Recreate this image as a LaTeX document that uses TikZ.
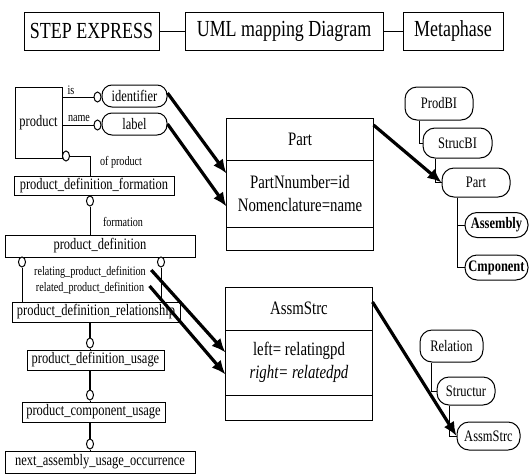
\documentclass[tikz,border=0pt]{standalone}
\usepackage{fontspec}
\setmainfont{Liberation Serif}[FakeStretch=0.78]
\usepackage{tikz}
\usetikzlibrary{arrows.meta,positioning,calc,shapes.geometric}
\tikzstyle{titleBox}=[draw, minimum height=38pt, inner sep=0pt, font=\fontsize{23pt}{26pt}\selectfont]
\tikzstyle{entityBox}=[draw, minimum height=20pt, inner sep=0pt, font=\fontsize{16pt}{17pt}\selectfont]
\tikzstyle{attrPill}=[draw, rounded corners=10pt, minimum height=22pt, inner sep=0pt, font=\fontsize{16pt}{17pt}\selectfont]
\tikzstyle{ringMark}=[draw, fill=white, ellipse, minimum width=7pt, minimum height=10pt, inner sep=0pt]
\tikzstyle{roleLabel}=[inner sep=0pt, font=\fontsize{13pt}{15pt}\selectfont]
\tikzstyle{classBox}=[draw, minimum width=147pt, inner sep=0pt, outer sep=0pt, align=center, font=\fontsize{19pt}{23pt}\selectfont]
\tikzstyle{treePill}=[draw, rounded corners=12pt, inner sep=0pt, font=\fontsize{16pt}{18pt}\selectfont]
\tikzstyle{boldPill}=[treePill, font=\fontsize{16pt}{18pt}\selectfont\bfseries]
\tikzstyle{mapArrow}=[line width=3.2pt, -{Latex[length=14pt,width=12pt]}]
\tikzstyle{heavyLink}=[line width=2.8pt]

\begin{document}
\begin{tikzpicture}[x=1pt,y=-1pt,line width=1pt]
  \useasboundingbox (0,0) rectangle (532,474);
  \node [titleBox, minimum width=135pt] (stepExpress) at (91.5,31) {STEP EXPRESS};
  \node [titleBox, minimum width=198pt] (umlMapping) at (284,31) {UML mapping Diagram};
  \node [titleBox, minimum width=100pt] (metaphase) at (453,31) {Metaphase};
  \draw (stepExpress) -- (umlMapping);
  \draw (umlMapping) -- (metaphase);

  \node [entityBox, minimum width=47pt, minimum height=71pt] (product) at (38.5,123) {product};
  \node [attrPill, minimum width=65pt] (identifier) at (134.5,96) {identifier};
  \node [attrPill, minimum width=65pt] (label) at (134.5,124) {label};
  \node [ringMark] (isRing) at (97.5,97) {};
  \node [ringMark] (nameRing) at (97.5,125) {};
  \draw (isRing.west) -- (isRing.west -| product.east);
  \draw (nameRing.west) -- (nameRing.west -| product.east);
  \node [roleLabel] (isText) at (71,90) {is};
  \node [roleLabel] (nameText) at (79,118) {name};

  \node [entityBox, minimum width=160pt, minimum height=19pt] (pdFormation) at (94,186) {product\_definition\_formation};
  \node [ringMark] (ofRing) at (66,156) {};
  \node [ringMark] (formRing) at (90,201) {};
  \node [entityBox, minimum width=190pt, minimum height=22pt] (pdDefinition) at (100,246) {product\_definition};
  \draw (ofRing.east) -| (formRing |- pdFormation.north);
  \draw (formRing.south) -- (formRing |- pdDefinition.north);
  \node [roleLabel] (ofText) at (121,162) {of product};
  \node [roleLabel] (formText) at (123,222) {formation};

  \node [ringMark] (relatingRing) at (22,262) {};
  \node [ringMark] (relatedRing) at (161,262) {};
  \node [roleLabel] (relatingText) at (90,272) {relating\_product\_definition};
  \node [roleLabel] (relatedText) at (90,288) {related\_product\_definition};
  \node [entityBox, minimum width=168pt] (pdRelationship) at (96,312) {product\_definition\_relationship};
  \draw (relatingRing.south) -- (relatingRing |- pdRelationship.north);
  \draw (relatedRing.south) -- (relatedRing |- pdRelationship.north);

  \node [entityBox, minimum width=137pt] (pdUsage) at (95.5,360) {product\_definition\_usage};
  \node [entityBox, minimum width=143pt] (pcUsage) at (93.5,412) {product\_component\_usage};
  \node [entityBox, minimum width=190pt, minimum height=22pt] (nauOccurrence) at (100,462) {next\_assembly\_usage\_occurrence};
  \node [ringMark] (usageRing) at (90,343) {};
  \node [ringMark] (componentRing) at (90,395) {};
  \node [ringMark] (occurrenceRing) at (90,444) {};
  \draw [heavyLink] (usageRing.north) -- (usageRing |- pdRelationship.south);
  \draw (usageRing.south) -- (usageRing |- pdUsage.north);
  \draw [heavyLink] (componentRing.north) -- (componentRing |- pdUsage.south);
  \draw (componentRing.south) -- (componentRing |- pcUsage.north);
  \draw [heavyLink] (occurrenceRing.north) -- (occurrenceRing |- pcUsage.south);
  \draw (occurrenceRing.south) -- (occurrenceRing |- nauOccurrence.north);

  \node [classBox, minimum height=42pt] (partHead) at (300,139) {Part};
  \node [classBox, minimum height=67pt, below=0pt of partHead] (partAttr) {PartNnumber=id\\Nomenclature=name};
  \node [classBox, minimum height=23pt, below=0pt of partAttr] (partOps) {};
  \node [classBox, minimum height=43pt] (assmHead) at (299,308.5) {AssmStrc};
  \node [classBox, minimum height=65pt, below=0pt of assmHead] (assmAttr) {left= relatingpd\\\textit{right= relatedpd}};
  \node [classBox, minimum height=25pt, below=0pt of assmAttr] (assmOps) {};

  \node [treePill, minimum width=68pt, minimum height=33pt] (prodBl) at (439,103.5) {ProdBI};
  \node [treePill, minimum width=69pt, minimum height=30pt] (strucBl) at (457.5,143) {StrucBI};
  \node [treePill, minimum width=68pt, minimum height=29pt] (partPill) at (476,182.5) {Part};
  \node [boldPill, minimum width=63pt, minimum height=25pt] (assembly) at (496.5,225) {Assembly};
  \node [boldPill, minimum width=63pt, minimum height=25pt] (cmponent) at (496.5,267.5) {Cmponent};
  \draw ([xshift=15pt]prodBl.south west) |- (strucBl.west);
  \draw ([xshift=13pt]strucBl.south west) |- (partPill.west);
  \draw ([xshift=16pt]partPill.south west) |- (assembly.west);
  \draw ([xshift=16pt]partPill.south west) |- (cmponent.west);

  \node [treePill, minimum width=63pt, minimum height=32pt] (relation) at (451.5,346) {Relation};
  \node [treePill, minimum width=58pt, minimum height=28pt] (structur) at (466,391) {Structur};
  \node [treePill, minimum width=63pt, minimum height=28pt] (assmPill) at (488.5,436) {AssmStrc};
  \draw ([xshift=12pt]relation.south west) |- (structur.west);
  \draw ([xshift=13pt]structur.south west) |- (assmPill.west);

  \draw [mapArrow] ([yshift=3pt]identifier.east) -- ([yshift=20pt]partAttr.west);
  \draw [mapArrow] (label.east) -- ([yshift=-13pt]partAttr.west);
  \draw [mapArrow] ([xshift=5pt,yshift=2pt]relatingText.east) -- ([yshift=10pt]assmAttr.west);
  \draw [mapArrow] ([xshift=5pt,yshift=2pt]relatedText.east) -- ([yshift=-12pt]assmAttr.west);
  \draw [mapArrow] ([yshift=-7pt]partHead.north east) -- (partPill.west);
  \draw [mapArrow] ([yshift=-15pt]assmHead.north east) -- (assmPill.west);
\end{tikzpicture}
\end{document}
